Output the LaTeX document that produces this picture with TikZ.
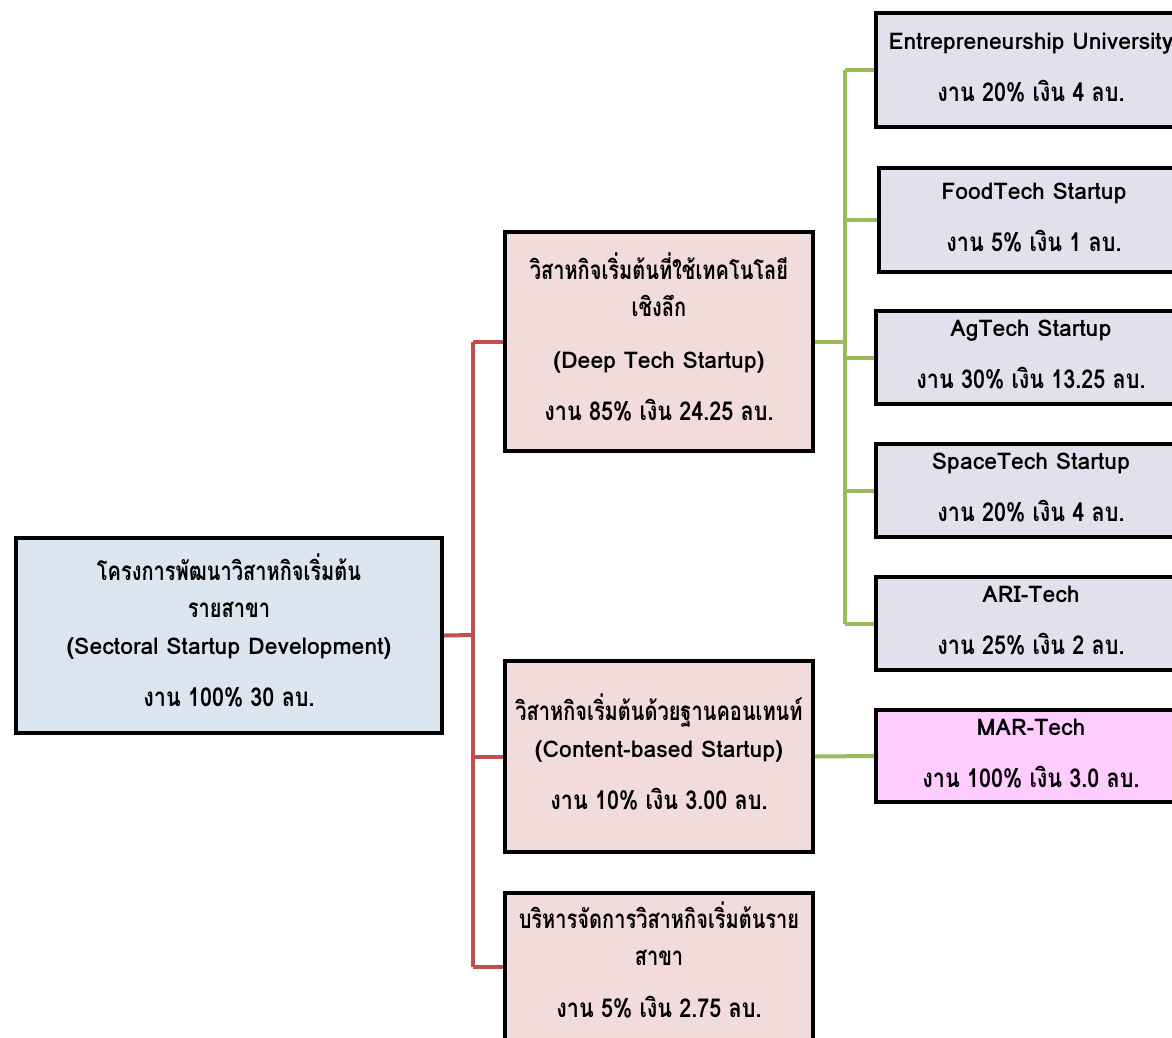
\documentclass[tikz,border=0pt]{standalone}
\usepackage{fontspec}
\setmainfont[Script=Thai]{Loma}
\newfontfamily\thA[Script=Thai,FakeStretch=0.77]{Loma}
\newfontfamily\thB[Script=Thai,FakeStretch=0.83]{Loma}
\definecolor{rootfill}{HTML}{DCE6F1}
\definecolor{midfill}{HTML}{F2DCDB}
\definecolor{leaffill}{HTML}{E4DFEC}
\definecolor{marfill}{HTML}{FFCCFF}
\definecolor{redline}{HTML}{C0504D}
\definecolor{greenline}{HTML}{9BBB59}
\newcommand\thtitle[1]{{\thA\fontsize{26}{37}\selectfont #1}}
\newcommand\lattext[1]{{\normalfont\bfseries\fontsize{23}{37}\selectfont #1}}
\tikzset{
  box/.style={draw=black, line width=4pt, align=center, inner sep=0pt,
    font=\thB\fontsize{26}{37}\selectfont\bfseries},
  rootbox/.style={box, fill=rootfill, minimum width=426pt, minimum height=195pt},
  midbox/.style={box, fill=midfill, minimum width=308pt},
  leafbox/.style={box, fill=leaffill, minimum width=310pt},
  redconn/.style={draw=redline, line width=4pt},
  greenconn/.style={draw=greenline, line width=4pt},
}
\begin{document}
\begin{tikzpicture}[x=1pt,y=-1pt]
\useasboundingbox (0,0) rectangle (1172,1037);
\clip (0,0) rectangle (1172,1037);
\fill[white] (0,0) rectangle (1172,1037);
% root
\node[rootbox] (root) at (229,635.5) {\thtitle{โครงการพัฒนาวิสาหกิจเริ่มต้น}\\\thtitle{รายสาขา}\\\lattext{(Sectoral Startup Development)}\\[15pt]งาน 100\% 30 ลบ.\\[-27pt]};
% middle level
\node[midbox, minimum height=219pt] (deep) at (659,341.5) {\thtitle{วิสาหกิจเริ่มต้นที่ใช้เทคโนโลยี}\\\thtitle{เชิงลึก}\\[15pt]\lattext{(Deep Tech Startup)}\\[15pt]งาน 85\% เงิน 24.25 ลบ.\\[-27pt]};
\node[midbox, minimum height=191pt] (content) at (659,756.5) {\thtitle{วิสาหกิจเริ่มต้นด้วยฐานคอนเทนท์}\\\lattext{(Content-based Startup)}\\[15pt]งาน 10\% เงิน 3.00 ลบ.\\[-27pt]};
\node[midbox, minimum height=152pt] (admin) at (659,969) {\thtitle{บริหารจัดการวิสาหกิจเริ่มต้นราย}\\\thtitle{สาขา}\\[15pt]งาน 5\% เงิน 2.75 ลบ.\\[-18pt]};
% leaves
\node[leafbox, minimum height=114pt] (eu) at (1031,70) {\lattext{Entrepreneurship University}\\[15pt]งาน 20\% เงิน 4 ลบ.\\[-31pt]};
\node[leafbox, minimum height=104pt] (food) at (1034,220) {\lattext{FoodTech Startup}\\[15pt]งาน 5\% เงิน 1 ลบ.\\[-31pt]};
\node[leafbox, minimum height=93pt] (ag) at (1031,357.5) {\lattext{AgTech Startup}\\[15pt]งาน 30\% เงิน 13.25 ลบ.\\[-31pt]};
\node[leafbox, minimum height=93pt] (space) at (1031,490.5) {\lattext{SpaceTech Startup}\\[15pt]งาน 20\% เงิน 4 ลบ.\\[-31pt]};
\node[leafbox, minimum height=93pt] (ari) at (1031,623.5) {\lattext{ARI-Tech}\\[15pt]งาน 25\% เงิน 2 ลบ.\\[-31pt]};
\node[leafbox, fill=marfill, minimum height=92pt] (mar) at (1031,756) {\lattext{MAR-Tech}\\[15pt]งาน 100\% เงิน 3.0 ลบ.\\[-31pt]};
% red connectors
\coordinate (rbus) at (473,635);
\draw[redconn] (root.east) -- (rbus);
\draw[redconn] (rbus |- deep.west) -- (rbus |- 0,967);
\draw[redconn] (rbus |- deep.west) -- (deep.west);
\draw[redconn] (rbus |- content.west) -- (content.west);
\draw[redconn] (rbus |- 0,967) -- (admin.west |- 0,967);
% green connectors
\coordinate (gbus) at (845,341.5);
\draw[greenconn] (deep.east) -- (gbus);
\draw[greenconn] (gbus |- eu.west) -- (gbus |- ari.west);
\draw[greenconn] (gbus |- eu.west) -- (eu.west);
\draw[greenconn] (gbus |- food.west) -- (food.west);
\draw[greenconn] (gbus |- ag.west) -- (ag.west);
\draw[greenconn] (gbus |- space.west) -- (space.west);
\draw[greenconn] (gbus |- ari.west) -- (ari.west);
\draw[greenconn] (content.east) -- (mar.west);
\end{tikzpicture}
\end{document}
